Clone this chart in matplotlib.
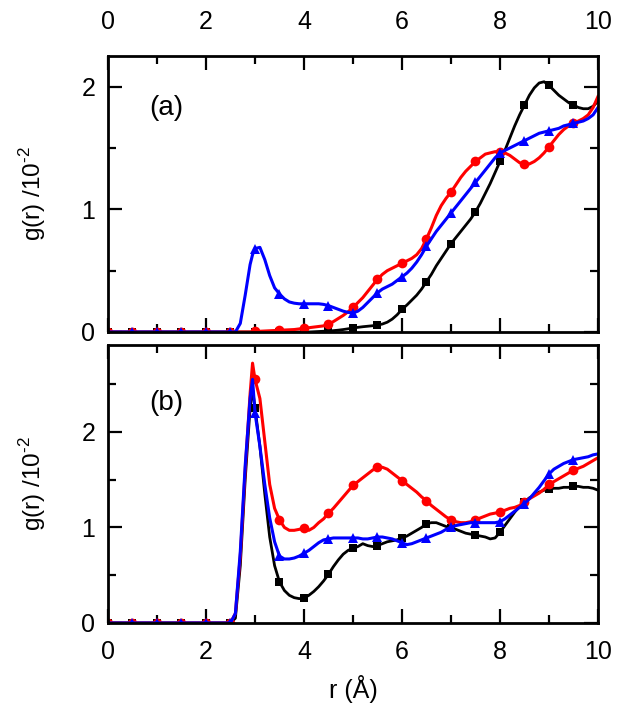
import numpy as np
import matplotlib
matplotlib.use("Agg")
import matplotlib.pyplot as plt
from matplotlib.ticker import MultipleLocator

plt.rcParams['font.family'] = ['Liberation Sans', 'DejaVu Sans']
plt.rcParams['mathtext.fontset'] = 'custom'
plt.rcParams['mathtext.rm'] = 'Liberation Sans'

# r grid (Å)
r = np.concatenate([[0, 0.5, 1.0, 1.5, 2.0, 2.5, 2.6, 2.7, 2.8, 2.9, 2.95, 3.0],
                    np.round(np.arange(3.1, 10.01, 0.1), 2)])

# ---- panel (a) ----
a_black = [0, 0, 0, 0, 0, 0, 0, 0, 0, 0, 0, 0,
           0, 0, 0, 0, 0, 0, 0, 0, 0, 0,
           0, 0.002, 0.004, 0.006, 0.008, 0.011, 0.015, 0.02, 0.026, 0.033,
           0.038, 0.043, 0.047, 0.051, 0.056, 0.065, 0.08, 0.105, 0.14, 0.185,
           0.22, 0.26, 0.30, 0.35, 0.41, 0.47, 0.54, 0.60, 0.66, 0.72,
           0.77, 0.82, 0.87, 0.92, 0.98, 1.05, 1.13, 1.21, 1.30, 1.39,
           1.48, 1.58, 1.68, 1.77, 1.85, 1.93, 1.99, 2.03, 2.04, 2.01,
           1.97, 1.93, 1.90, 1.87, 1.85, 1.83, 1.82, 1.82, 1.84, 1.88]
a_red = [0, 0, 0, 0, 0, 0, 0, 0, 0, 0, 0.003, 0.005,
         0.006, 0.008, 0.01, 0.012, 0.014, 0.016, 0.018, 0.02, 0.025, 0.03,
         0.035, 0.04, 0.045, 0.05, 0.065, 0.085, 0.11, 0.135, 0.165, 0.20,
         0.24, 0.28, 0.33, 0.38, 0.43, 0.47, 0.50, 0.52, 0.54, 0.56,
         0.58, 0.60, 0.63, 0.68, 0.76, 0.85, 0.95, 1.03, 1.09, 1.14,
         1.20, 1.26, 1.31, 1.35, 1.39, 1.42, 1.45, 1.46, 1.47, 1.47,
         1.46, 1.44, 1.41, 1.38, 1.37, 1.37, 1.39, 1.42, 1.46, 1.51,
         1.56, 1.61, 1.65, 1.68, 1.70, 1.72, 1.74, 1.77, 1.83, 1.92]
a_blue = [0, 0, 0, 0, 0, 0, 0, 0.07, 0.30, 0.55, 0.63, 0.68,
          0.69, 0.59, 0.46, 0.36, 0.31, 0.27, 0.245, 0.235, 0.23, 0.23,
          0.23, 0.23, 0.23, 0.225, 0.215, 0.20, 0.185, 0.17, 0.16, 0.155,
          0.17, 0.20, 0.24, 0.28, 0.32, 0.35, 0.37, 0.39, 0.42, 0.45,
          0.48, 0.52, 0.57, 0.63, 0.70, 0.76, 0.82, 0.87, 0.92, 0.97,
          1.02, 1.07, 1.12, 1.17, 1.22, 1.27, 1.32, 1.37, 1.42, 1.46,
          1.48, 1.50, 1.52, 1.54, 1.56, 1.58, 1.60, 1.62, 1.63, 1.64,
          1.65, 1.66, 1.68, 1.69, 1.70, 1.71, 1.72, 1.74, 1.77, 1.83]

# ---- panel (b) ----
b_black = [0, 0, 0, 0, 0, 0, 0.05, 0.6, 1.5, 2.25, 2.45, 2.25,
           1.85, 1.35, 0.9, 0.6, 0.43, 0.34, 0.29, 0.265, 0.255, 0.26,
           0.29, 0.33, 0.38, 0.44, 0.51, 0.59, 0.66, 0.72, 0.76, 0.78,
           0.80, 0.83, 0.81, 0.80, 0.81, 0.83, 0.85, 0.86, 0.87, 0.89,
           0.91, 0.94, 0.97, 1.00, 1.04, 1.05, 1.05, 1.03, 1.01, 0.99,
           0.98, 0.96, 0.94, 0.93, 0.92, 0.91, 0.90, 0.88, 0.89, 0.95,
           1.02, 1.09, 1.16, 1.22, 1.27, 1.31, 1.34, 1.37, 1.39, 1.40,
           1.41, 1.41, 1.42, 1.42, 1.43, 1.43, 1.42, 1.42, 1.41, 1.39]
b_red = [0, 0, 0, 0, 0, 0, 0.1, 0.7, 1.6, 2.4, 2.72, 2.55,
         2.35, 1.9, 1.45, 1.2, 1.08, 1.0, 0.97, 0.97, 0.98, 0.99,
         0.97, 1.0, 1.05, 1.09, 1.15, 1.20, 1.26, 1.32, 1.38, 1.44,
         1.48, 1.52, 1.56, 1.60, 1.63, 1.63, 1.61, 1.57, 1.53, 1.49,
         1.45, 1.41, 1.37, 1.32, 1.28, 1.23, 1.19, 1.15, 1.11, 1.08,
         1.06, 1.05, 1.05, 1.06, 1.08, 1.10, 1.12, 1.14, 1.15, 1.16,
         1.18, 1.20, 1.21, 1.23, 1.27, 1.30, 1.33, 1.36, 1.40, 1.45,
         1.48, 1.51, 1.54, 1.57, 1.60, 1.62, 1.64, 1.67, 1.70, 1.73]
b_blue = [0, 0, 0, 0, 0, 0, 0.1, 0.75, 1.65, 2.35, 2.55, 2.2,
          1.85, 1.45, 1.1, 0.85, 0.70, 0.67, 0.67, 0.68, 0.70, 0.73,
          0.76, 0.80, 0.84, 0.87, 0.88, 0.89, 0.89, 0.89, 0.89, 0.89,
          0.89, 0.88, 0.88, 0.89, 0.90, 0.90, 0.89, 0.88, 0.86, 0.84,
          0.82, 0.83, 0.85, 0.87, 0.89, 0.91, 0.93, 0.95, 0.98, 1.00,
          1.02, 1.03, 1.04, 1.05, 1.05, 1.05, 1.05, 1.05, 1.05, 1.06,
          1.09, 1.13, 1.17, 1.21, 1.25, 1.30, 1.36, 1.42, 1.49, 1.56,
          1.61, 1.64, 1.67, 1.69, 1.71, 1.72, 1.73, 1.74, 1.76, 1.77]

panel_labels = ['(a)', '(b)']
ylabel_text = 'g(r) /10$^{\\mathregular{\u20102}}$'
xlabel_text = 'r (Å)'

# marker indices at every 0.5 Å from 0 to 9.5
mark_idx = [i for i, v in enumerate(r) if abs(v * 2 - round(v * 2)) < 1e-6 and v < 9.9]

fig = plt.figure(figsize=(6.29, 7.26), dpi=100)
ax1 = fig.add_axes([0.1717, 0.5427, 0.779, 0.3802])
ax2 = fig.add_axes([0.1717, 0.1419, 0.779, 0.3829])

series = [
    (ax1, [a_black, a_red, a_blue], (0, 2.25)),
    (ax2, [b_black, b_red, b_blue], (0, 2.91)),
]
styles = [('black', 's', 2.0, 6.0), ('#ff0000', 'o', 2.2, 7.0), ('#0000ff', '^', 2.2, 7.5)]

for i, (ax, ys, ylim) in enumerate(series):
    for y, (c, m, lw, ms) in zip(ys, styles):
        ax.plot(r, y, color=c, lw=lw, marker=m, ms=ms, markevery=mark_idx,
                markeredgewidth=0)
    ax.set_xlim(0, 10)
    ax.set_ylim(*ylim)
    ax.xaxis.set_major_locator(MultipleLocator(2))
    ax.xaxis.set_minor_locator(MultipleLocator(1))
    ax.yaxis.set_major_locator(MultipleLocator(1))
    ax.yaxis.set_minor_locator(MultipleLocator(0.5))
    ax.tick_params(which='both', direction='in', top=True, right=True, width=1.6,
                   labelsize=18)
    ax.tick_params(which='major', length=10)
    ax.tick_params(which='minor', length=6)
    ax.tick_params(axis='y', pad=9)
    for s in ax.spines.values():
        s.set_linewidth(2.0)
    ax.set_ylabel(ylabel_text, fontsize=17.5, labelpad=24)
    ax.text(0.085, 0.81 if i == 0 else 0.79, panel_labels[i], transform=ax.transAxes,
            fontsize=20, ha='left', va='center')

ax1.tick_params(axis='x', labelbottom=False, labeltop=True, pad=16)
ax2.tick_params(axis='x', pad=12)
ax2.set_xlabel(xlabel_text, fontsize=18, labelpad=8)

fig.savefig('out.png', dpi=100)
